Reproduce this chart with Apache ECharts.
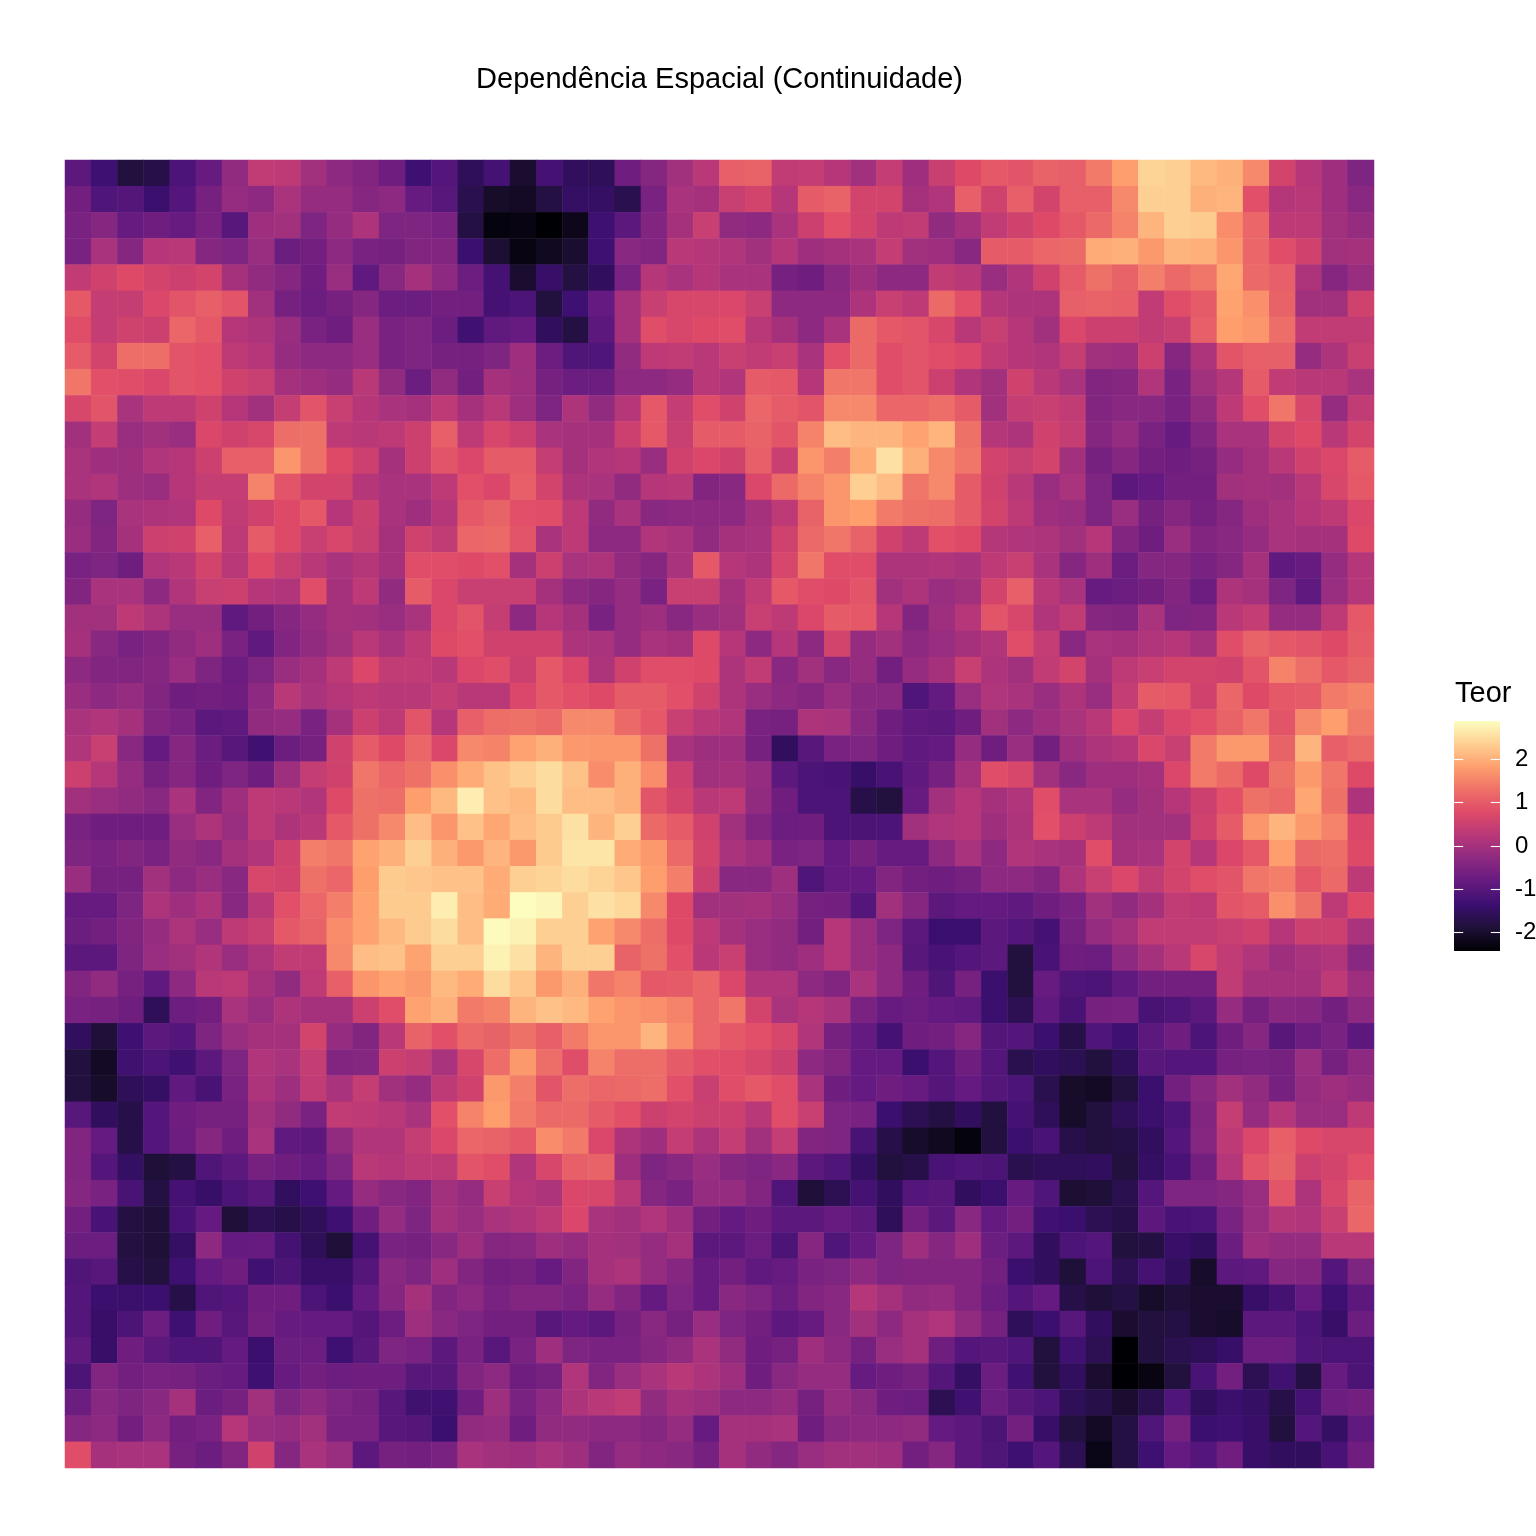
<!DOCTYPE html>
<html>
<head>
<meta charset="utf-8">
<style>html,body{margin:0;padding:0;background:#fff}#c{width:1536px;height:1536px}</style>
<script src="https://cdn.jsdelivr.net/npm/echarts@6/dist/echarts.min.js"></script>
</head>
<body>
<div id="c"></div>
<script>
const chartTitle = "Dependência Espacial (Continuidade)";
const legendTitle = "Teor";
const legendTicks = [-2, -1, 0, 1, 2];
const valueMin = -2.44;
const valueMax = 2.88;
const magma = ["#000004","#1F1038","#3B0F70","#641A80","#8C2981","#B73779","#DE4968","#EE7068","#FE9F6D","#FECF92","#FCFDBF"];

const row00=[-0.95,-1.35,-1.85,-1.75,-1.15,-0.8,-0.25,0.35,0.3,-0.05,-0.3,-0.45,-0.7,-1.35,-1.05,-1.6,-1.25, -2.0,-1.25,-1.55,-1.6,-0.7,-0.4,-0.05,0.25,1.05,1.1,0.35,0.4,0.2,-0.05,0.4,-0.1, 0.45,0.75,0.95,0.9,1.1,1.05,1.4,1.8,2.4,2.35,2.1,2.0,1.55,0.6,0.2,-0.1,-0.5];
const row01=[-0.65,-1.1,-1.05,-1.4,-1.05,-0.6,-0.2,-0.3,0.05,-0.2,-0.2,-0.4,-0.3,-0.8,-1.0,-1.7,-2.05, -2.1,-1.8,-1.5,-1.5,-1.7,-0.55,0.05,0.0,0.45,0.6,0.2,1.0,1.1,0.6,0.6,0.0, 0.15,1.05,0.55,1.05,0.6,1.05,1.05,1.55,2.35,2.35,2.0,2.05,0.85,0.2,0.25,-0.1,-0.35];
const row02=[-0.55,-0.4,-0.8,-0.7,-0.8,-0.55,-1.0,-0.1,-0.05,-0.5,-0.2,0.1,-0.5,-0.5,-0.55,-1.8,-2.35, -2.3,-2.44,-2.2,-1.35,-0.95,-0.45,0.0,0.45,-0.25,-0.3,0.05,0.5,0.85,0.6,0.3,0.35, -0.25,0.0,0.35,0.55,0.75,0.95,1.2,1.5,2.05,2.35,2.3,1.6,1.15,0.3,0.3,-0.05,-0.2];
const row03=[-0.55,0.05,-0.4,0.2,0.25,-0.4,-0.5,-0.15,-0.75,-0.65,-0.3,-0.55,-0.6,-0.45,-0.45,-1.4,-1.95, -2.3,-2.15,-2.0,-1.35,-0.35,-0.45,0.25,0.2,0.15,-0.05,0.2,-0.1,0.0,0.05,0.4,-0.05, -0.1,-0.35,1.0,1.0,1.15,1.2,1.95,2.0,1.75,2.05,2.0,1.7,1.15,0.8,0.55,-0.05,0.0];
const row04=[0.35,0.55,0.75,0.6,0.5,0.6,0.0,-0.25,-0.4,-0.7,-0.15,-0.9,-0.35,0.0,-0.3,-0.75,-1.25, -2.0,-1.45,-1.8,-1.55,-0.55,0.2,0.05,0.2,0.05,0.05,-0.6,-0.7,-0.35,-0.1,-0.3,-0.3, 0.35,0.25,-0.15,0.15,0.55,1.0,1.3,1.1,1.45,1.2,1.35,1.9,1.2,1.05,0.1,-0.4,-0.15];
const row05=[0.95,0.4,0.4,0.7,0.9,1.05,0.9,-0.05,-0.6,-0.75,-0.6,-0.4,-0.75,-0.75,-0.65,-0.65,-1.25, -1.15,-1.85,-1.35,-0.85,0.0,0.45,0.65,0.65,0.7,0.45,-0.3,-0.3,-0.3,0.1,0.45,0.3, 1.2,0.85,0.2,0.1,0.1,1.05,1.1,1.05,0.35,0.8,1.0,1.85,1.65,1.1,-0.05,-0.05,0.55];
const row06=[0.8,0.4,0.55,0.5,1.15,0.95,0.2,0.1,-0.15,-0.55,-0.7,-0.15,-0.55,-0.5,-0.75,-1.3,-0.9, -0.8,-1.55,-1.8,-0.95,0.0,0.8,0.65,0.75,0.8,0.25,0.0,-0.3,0.05,1.2,0.95,0.9, 0.65,0.25,0.45,0.2,-0.05,0.7,0.5,0.5,0.35,0.45,1.05,1.8,1.7,1.25,0.35,0.35,0.35];
const row07=[1.0,0.6,1.25,1.25,0.9,0.85,0.3,0.2,-0.2,-0.3,-0.3,-0.15,-0.55,-0.5,-0.6,-0.6,-0.5, -0.1,-0.75,-1.1,-1.1,-0.25,0.3,0.35,0.25,0.45,0.35,0.45,0.05,0.85,1.2,0.8,0.9, 0.8,0.7,0.35,0.2,0.15,0.4,-0.05,-0.1,0.5,-0.4,0.1,0.9,1.05,1.05,-0.2,0.1,0.45];
const row08=[1.35,0.85,0.8,0.7,0.9,0.85,0.55,0.45,0.0,-0.1,-0.2,0.25,-0.25,-0.75,-0.25,-0.65,0.0, -0.1,-0.6,-0.75,-0.75,-0.3,-0.3,-0.2,0.25,0.15,1.0,0.95,0.2,1.35,1.35,0.8,0.9, 0.5,0.15,-0.05,0.55,0.25,0.05,-0.45,-0.4,0.15,-0.55,-0.05,0.2,1.0,0.35,0.25,0.25,0.05];
const row09=[0.65,0.9,0.05,0.3,0.3,0.55,0.2,-0.05,0.4,0.9,0.45,0.2,0.05,0.0,0.3,0.0,0.25, -0.1,-0.5,0.1,-0.25,0.2,0.95,0.4,0.8,0.55,1.15,1.0,0.9,1.55,1.55,1.15,1.15, 1.25,1.0,-0.05,0.4,0.45,0.35,-0.45,-0.35,-0.35,-0.55,-0.25,0.3,0.8,1.35,0.65,-0.2,0.35];
const row10=[-0.05,0.4,-0.15,-0.05,-0.15,0.7,0.55,0.65,1.25,1.3,0.3,0.25,0.3,0.5,1.05,0.3,0.65, 0.5,0.05,0.0,0.0,0.5,0.95,0.45,1.0,1.0,1.1,0.9,1.5,2.15,2.05,2.05,1.85, 2.05,1.3,0.2,0.1,0.55,0.4,-0.4,-0.2,-0.55,-0.8,-0.45,0.05,0.05,0.6,0.75,0.25,0.6];
const row11=[0.05,-0.1,-0.1,0.15,0.2,0.5,1.05,1.05,1.7,1.3,0.75,0.5,0.0,0.5,0.9,0.7,1.0, 1.0,0.4,0.0,0.15,0.2,-0.15,0.55,0.7,0.55,1.05,0.45,1.7,1.45,1.95,2.55,2.0, 1.55,1.35,0.6,0.45,0.6,-0.05,-0.6,-0.4,-0.65,-0.7,-0.6,-0.2,0.0,0.25,0.55,0.7,1.0];
const row12=[0.05,0.15,-0.1,-0.15,0.2,0.4,0.4,1.5,0.9,0.6,0.6,0.2,0.05,0.05,0.3,0.85,0.7, 1.05,0.6,0.1,0.05,-0.25,0.2,0.25,-0.45,-0.35,0.7,1.2,1.5,1.7,2.35,2.15,1.35, 1.55,1.0,0.55,0.25,-0.15,0.05,-0.5,-0.95,-0.85,-0.65,-0.65,-0.05,0.0,-0.05,0.25,0.65,0.95];
const row13=[-0.2,-0.5,0.05,0.1,0.15,0.75,0.35,0.55,0.75,0.95,0.2,0.5,0.05,-0.1,0.2,0.95,1.1, 0.85,0.8,0.3,-0.25,0.05,-0.35,-0.3,-0.3,-0.3,0.0,0.3,1.1,1.7,1.8,1.4,1.3, 1.25,1.0,0.6,0.3,-0.1,-0.15,-0.5,-0.15,-0.6,-0.4,-0.6,-0.4,-0.1,0.05,0.2,0.3,0.7];
const row14=[-0.15,-0.45,0.0,0.5,0.55,1.05,0.3,1.0,0.75,0.45,0.65,0.45,0.0,0.55,0.35,1.15,1.2, 0.9,0.05,0.3,-0.3,-0.3,0.15,0.05,-0.25,0.0,0.05,0.55,1.2,1.35,1.1,0.55,0.3, 0.85,0.75,0.2,0.15,0.1,-0.05,0.2,-0.45,-0.7,-0.15,-0.45,-0.35,-0.2,0.05,0.0,0.0,0.75];
const row15=[-0.55,-0.5,-0.7,0.15,0.25,0.6,0.25,0.75,0.45,0.25,0.05,0.2,0.0,0.8,0.8,0.75,0.85, 0.0,0.5,0.05,0.1,-0.25,-0.4,0.05,0.95,0.2,0.1,0.65,1.35,0.8,0.8,0.1,0.1, 0.15,0.05,0.3,0.45,0.05,-0.4,-0.1,-0.75,-0.4,-0.4,-0.55,-0.4,0.0,-0.9,-0.8,-0.2,0.2];
const row16=[-0.45,0.05,0.05,-0.3,0.15,0.45,0.5,0.2,0.15,0.8,0.0,0.3,-0.25,1.0,0.7,0.45,0.45, 0.45,0.0,-0.3,-0.4,-0.2,-0.55,0.45,0.45,0.0,0.35,0.95,0.8,0.75,0.9,-0.05,0.1, -0.15,-0.05,0.6,1.05,0.25,0.05,-0.8,-0.75,-0.65,-0.45,-0.75,0.1,0.0,-0.5,-0.9,-0.15,0.2];
const row17=[-0.05,-0.05,0.3,0.1,-0.15,-0.15,-0.9,-0.65,-0.4,-0.2,0.0,-0.05,-0.15,0.05,0.7,0.9,0.4, -0.3,0.2,0.0,-0.55,-0.2,-0.1,-0.35,-0.15,-0.05,0.45,0.3,0.7,1.0,0.95,0.2,-0.45, -0.1,0.2,0.9,0.65,0.15,0.35,-0.4,-0.45,0.05,-0.5,-0.45,0.25,0.4,-0.2,-0.2,0.3,0.95];
const row18=[0.0,-0.35,-0.55,-0.45,-0.25,-0.1,-0.55,-0.9,-0.45,-0.25,-0.05,0.25,0.05,0.3,0.75,0.85,0.55, 0.55,0.55,0.1,0.05,-0.2,0.05,0.0,0.75,0.2,-0.3,0.2,-0.3,0.6,-0.2,-0.05,-0.3, -0.15,0.0,0.15,0.8,0.4,-0.35,0.05,0.0,0.15,0.2,0.0,0.8,1.1,0.95,0.9,0.75,1.0];
const row19=[-0.3,-0.45,-0.45,-0.4,-0.15,-0.5,-0.75,-0.5,-0.15,0.0,0.3,0.7,0.35,0.35,0.25,0.7,0.8, 0.5,0.95,0.7,0.1,0.55,0.8,0.8,0.75,0.1,0.35,-0.35,-0.05,-0.35,-0.2,-0.65,-0.2, 0.0,0.45,0.1,-0.05,0.35,0.6,0.0,0.3,0.45,0.6,0.6,0.55,0.9,1.5,1.25,0.95,1.1];
const row20=[-0.15,-0.3,-0.2,-0.45,-0.7,-0.65,-0.7,-0.3,0.25,0.05,0.2,0.3,0.25,0.25,0.4,0.25,0.25, 0.7,0.95,0.85,0.75,1.0,1.0,0.85,0.55,0.1,-0.15,-0.3,-0.4,-0.15,-0.35,-0.35,-1.1, -0.85,-0.15,0.15,0.05,-0.15,0.1,-0.15,0.4,1.0,0.95,0.55,1.15,0.75,0.95,1.0,1.4,1.5];
const row21=[0.05,0.15,0.0,-0.45,-0.55,-0.95,-0.9,-0.25,-0.2,-0.55,0.0,0.5,0.3,0.9,0.2,1.05,1.25, 1.3,1.2,1.55,1.55,1.2,0.95,0.45,0.25,0.15,-0.55,-0.6,0.1,0.05,-0.35,-0.7,-0.9, -0.95,-0.7,-0.05,-0.3,-0.1,0.05,0.25,0.7,0.4,0.7,0.85,1.1,1.35,0.9,1.55,1.8,1.4];
const row22=[0.15,0.45,-0.35,-0.85,-0.4,-0.75,-1.0,-1.3,-0.75,-0.6,0.55,1.0,0.75,1.15,0.7,1.55,1.5, 1.85,2.0,1.75,1.7,1.7,1.3,0.05,-0.1,-0.1,-0.6,-1.55,-1.0,-0.55,-0.5,-0.7,-0.9, -0.85,-0.2,-0.7,-0.15,-0.65,-0.1,0.1,0.2,0.7,0.45,1.4,1.75,1.75,1.1,2.05,1.05,1.2];
const row23=[0.5,0.2,-0.2,-0.6,-0.4,-0.7,-0.5,-0.7,-0.1,0.4,0.55,1.35,1.15,1.3,1.65,1.95,2.2, 2.35,2.5,2.2,1.6,2.0,1.6,0.5,-0.05,0.0,-0.2,-0.95,-1.15,-1.2,-1.45,-1.2,-0.9, -0.6,0.0,0.8,0.65,-0.05,-0.35,-0.1,-0.1,0.0,0.7,1.4,1.2,0.75,1.3,1.75,1.35,0.75];
const row24=[-0.05,-0.15,-0.25,-0.35,0.05,-0.45,-0.1,0.3,0.25,0.15,0.75,1.3,1.25,1.8,2.1,2.7,2.2, 2.1,2.5,2.15,2.15,2.0,0.9,0.6,0.25,0.3,-0.25,-0.7,-1.15,-1.15,-1.75,-1.85,-0.8, -0.05,0.2,0.0,0.15,0.8,0.05,0.05,-0.2,-0.05,0.2,0.5,0.85,1.3,1.2,1.9,1.3,0.1];
const row25=[-0.55,-0.7,-0.7,-0.7,-0.15,0.1,-0.15,0.3,0.1,0.25,0.95,1.3,1.55,2.15,1.7,2.2,1.9, 2.15,2.3,2.55,2.05,2.35,1.2,1.0,0.55,-0.05,-0.45,-0.75,-0.7,-1.15,-1.15,-1.15,-0.05, 0.15,0.2,-0.1,0.1,0.85,0.5,0.3,-0.05,-0.05,-0.05,0.55,1.0,1.7,2.05,1.75,1.5,0.7];
const row26=[-0.5,-0.55,-0.45,-0.55,-0.25,-0.35,0.0,0.15,0.55,1.45,1.35,1.85,2.0,2.35,2.0,1.75,2.05, 1.75,2.3,2.6,2.6,1.95,1.75,1.2,0.6,0.05,-0.1,-0.55,-0.5,-0.85,-0.6,-0.8,-0.8, -0.3,0.05,-0.3,0.15,0.05,0.0,0.8,0.0,0.05,0.6,0.2,0.7,0.95,1.8,1.2,1.25,0.75];
const row27=[-0.15,-0.6,-0.6,-0.05,-0.3,-0.15,-0.35,0.65,0.6,1.3,1.15,1.8,2.3,2.25,2.2,2.2,1.95, 2.35,2.4,2.5,2.4,2.25,1.8,1.45,0.5,-0.35,-0.35,-0.1,-1.1,-0.85,-0.85,-0.45,-0.65, -0.7,-0.6,-0.3,-0.3,-0.45,0.1,0.45,0.7,0.35,0.6,0.8,0.9,1.35,1.45,0.95,1.2,0.3];
const row28=[-0.8,-0.8,-0.5,0.1,-0.1,0.1,-0.35,0.25,0.85,1.15,1.45,1.85,2.3,2.3,2.7,2.15,1.95, 2.88,2.8,2.35,2.55,2.45,1.55,0.75,-0.05,-0.05,0.0,-0.15,-0.6,-0.65,-1.05,-0.05,-0.4, -0.95,-0.85,-0.85,-0.9,-0.7,-0.55,-0.05,-0.25,0.0,0.35,0.3,0.9,1.0,1.65,1.3,0.3,0.75];
const row29=[-0.75,-0.65,-0.45,-0.2,0.1,-0.15,0.3,0.45,0.95,1.1,1.6,1.85,2.1,2.3,2.5,2.15,2.85, 2.75,2.35,2.35,1.85,1.55,1.25,0.75,0.3,0.0,-0.15,-0.25,-0.65,0.2,-0.15,-0.5,-0.95, -1.4,-1.4,-0.95,-1.05,-1.25,-0.6,-0.2,0.0,0.35,0.35,0.35,0.45,0.55,0.2,0.5,0.5,0.05];
const row30=[-0.95,-0.95,-0.5,-0.15,-0.05,0.15,-0.15,0.1,0.35,0.35,1.55,2.15,2.2,1.85,2.35,2.35,2.75, 2.55,2.05,2.35,2.35,1.1,1.3,0.85,0.25,0.45,-0.15,-0.25,-0.1,0.2,-0.15,-0.3,-1.0, -1.2,-1.05,-0.95,-1.85,-1.2,-0.7,-0.75,-0.3,0.0,0.25,0.65,0.35,0.15,-0.1,0.05,0.15,-0.35];
const row31=[-0.45,-0.25,-0.6,-0.9,-0.3,0.25,0.3,0.0,-0.25,0.3,1.05,1.7,1.85,1.75,2.1,1.95,2.5, 2.25,1.75,2.0,1.35,1.5,0.95,1.0,1.15,0.7,0.15,0.15,-0.3,-0.45,0.05,-0.3,-0.7, -1.1,-0.6,-1.4,-1.85,-0.8,-1.1,-1.15,-0.9,-0.65,-0.65,-0.65,0.35,0.0,0.0,0.0,0.3,-0.1];
const row32=[-0.55,-0.6,-0.7,-1.6,-0.75,-0.65,0.05,-0.15,0.1,0.0,0.0,0.5,0.8,1.85,2.0,1.4,1.5, 2.05,2.2,2.1,1.85,1.7,1.65,1.5,1.15,1.35,0.6,0.05,0.2,0.05,-0.55,-0.8,-0.75, -0.85,-0.9,-1.4,-1.65,-0.9,-1.2,-0.6,-0.55,-1.2,-1.1,-0.95,-0.2,-0.6,-0.35,-0.4,-0.65,-0.3];
const row33=[-1.55,-1.9,-1.35,-0.95,-1.05,-0.5,-0.15,0.0,0.0,0.6,-0.2,-0.45,0.25,1.1,0.85,1.2,1.1, 1.3,1.05,1.4,1.7,1.7,2.05,1.6,1.15,0.95,0.85,0.65,0.15,-0.6,-0.85,-1.25,-0.7, -0.65,-0.4,-1.05,-1.05,-1.4,-1.75,-1.1,-1.35,-0.95,-0.7,-1.15,-0.7,-0.4,-1.0,-0.75,-0.55,-0.95];
const row34=[-1.85,-2.1,-1.3,-1.15,-1.3,-0.95,-0.5,0.15,0.05,0.4,-0.45,-0.4,0.5,0.4,0.05,0.65,1.25, 1.75,1.25,0.8,1.5,1.25,1.25,1.0,0.85,0.8,0.65,0.5,-0.3,-0.45,-0.85,-0.85,-1.4, -1.05,-0.7,-1.05,-1.7,-1.55,-1.65,-1.85,-1.6,-1.0,-1.05,-1.05,-0.6,-0.55,-0.6,-0.15,-0.6,-0.3];
const row35=[-1.85,-2.05,-1.6,-1.5,-0.9,-1.2,-0.55,0.1,-0.1,0.35,0.05,0.4,-0.05,-0.2,0.3,0.55,1.75, 1.45,0.9,1.25,1.15,1.2,1.25,0.85,0.45,0.8,0.95,0.8,0.05,-0.7,-0.85,-0.7,-0.8, -1.05,-0.85,-1.05,-1.15,-1.7,-2.05,-2.1,-1.85,-1.4,-0.65,-0.35,-0.05,-0.25,-0.6,-0.2,-0.1,-0.2];
const row36=[-1.0,-1.55,-1.75,-1.05,-0.7,-0.6,-0.6,-0.05,-0.25,-0.55,0.35,0.3,0.25,0.05,0.85,1.5,1.8, 1.4,1.2,1.2,1.0,0.85,0.5,0.6,0.5,0.5,0.25,0.8,0.45,-0.5,-0.55,-1.4,-1.65, -1.8,-1.55,-1.85,-1.25,-1.6,-2.05,-1.85,-1.6,-1.4,-1.15,-0.45,0.4,-0.2,0.2,-0.15,-0.15,0.3];
const row37=[-0.45,-0.85,-1.75,-1.05,-0.75,-0.4,-0.7,0.05,-0.9,-0.95,-0.25,0.15,0.15,0.4,0.7,1.15,1.1, 0.95,1.6,1.4,0.7,0.1,-0.1,0.4,0.1,0.4,-0.05,0.4,-0.45,-0.5,-1.2,-1.75,-2.05, -2.15,-2.35,-1.85,-1.4,-1.2,-1.75,-1.85,-1.8,-1.55,-1.05,-0.4,0.3,0.7,1.05,0.75,0.65,0.65];
const row38=[-0.45,-1.05,-1.5,-1.9,-1.8,-1.1,-0.95,-0.6,-0.7,-0.8,-0.5,0.25,0.2,0.3,0.3,0.9,0.8, 0.15,0.65,1.05,1.1,-0.1,-0.5,-0.35,-0.15,-0.4,-0.5,-0.35,-0.95,-1.1,-1.5,-1.85,-1.75, -1.2,-1.1,-1.15,-1.7,-1.6,-1.6,-1.55,-1.85,-1.5,-1.2,-0.65,0.2,0.9,1.1,0.5,0.6,0.85];
const row39=[-0.4,-0.55,-1.2,-1.8,-1.25,-1.45,-1.15,-1.0,-1.55,-1.35,-0.85,-0.2,-0.35,-0.45,-0.05,-0.2,0.45, 0.2,0.1,0.7,0.65,0.25,-0.4,-0.55,-0.2,-0.2,-0.45,-1.1,-1.9,-1.65,-1.25,-1.55,-1.05, -1.0,-1.55,-1.4,-0.8,-1.1,-1.95,-1.9,-1.7,-1.05,-0.5,-0.5,-0.4,-0.15,0.9,0.1,0.65,1.1];
const row40=[-0.65,-1.2,-1.8,-1.9,-1.2,-0.85,-1.9,-1.65,-1.75,-1.6,-1.35,-0.7,-0.2,-0.5,0.0,-0.15,0.05, 0.15,0.3,0.7,0.05,-0.05,0.15,-0.1,-0.65,-0.85,-0.7,-0.95,-0.95,-0.8,-0.95,-1.6,-0.65, -0.95,-0.35,-0.85,-0.65,-1.3,-1.4,-1.65,-1.75,-0.95,-1.2,-1.15,-0.55,-0.15,0.2,0.15,0.45,1.15];
const row41=[-0.75,-0.75,-1.8,-1.9,-1.5,-0.3,-0.85,-0.8,-1.25,-1.6,-1.9,-1.25,-0.55,-0.6,-0.35,-0.1,-0.4, -0.35,-0.1,-0.2,0.0,-0.05,-0.2,0.0,-0.95,-0.95,-0.75,-1.15,-0.4,-1.1,-0.85,-0.5,-0.1, -0.4,-0.1,-0.75,-0.95,-1.55,-1.15,-1.05,-1.85,-1.8,-1.45,-1.55,-0.75,-0.1,-0.2,-0.2,0.25,0.25];
const row42=[-1.1,-1.0,-1.75,-1.85,-1.35,-0.85,-0.7,-1.3,-1.15,-1.45,-1.45,-1.05,-0.35,-0.5,-0.1,-0.45,-0.65, -0.6,-0.8,-0.45,0.0,0.1,-0.2,-0.4,-0.8,-0.65,-0.9,-0.8,-0.55,-0.5,-0.3,-0.5,-0.45, -0.45,-0.45,-0.65,-1.4,-1.55,-1.9,-1.15,-1.65,-1.25,-1.55,-2.05,-0.95,-0.9,-0.4,-0.45,-1.05,-0.5];
const row43=[-1.05,-1.4,-1.4,-1.4,-1.75,-1.1,-1.05,-0.7,-0.7,-1.15,-1.4,-0.85,-0.4,0.0,-0.45,-0.3,-0.55, -0.45,-0.45,-0.55,-0.2,-0.45,-0.85,-0.5,-0.8,-0.35,-0.5,-0.75,-0.45,-0.35,0.2,0.0,-0.25, -0.2,-0.45,-0.75,-1.05,-0.85,-1.75,-1.9,-1.8,-2.05,-1.9,-2.0,-2.0,-1.45,-1.25,-0.85,-1.35,-0.95];
const row44=[-1.05,-1.45,-1.15,-0.75,-1.35,-0.7,-1.0,-0.65,-0.8,-0.85,-0.85,-1.05,-0.75,-0.1,-0.35,-0.5,-0.65, -0.65,-1.0,-0.85,-0.95,-0.6,-0.35,-0.6,-0.15,-0.5,-0.65,-0.95,-0.8,-0.35,-0.05,-0.3,0.0, 0.15,-0.25,-0.6,-1.6,-1.4,-1.0,-1.55,-2.0,-1.85,-1.8,-2.0,-2.05,-0.95,-0.95,-1.15,-1.45,-0.75];
const row45=[-0.9,-1.45,-0.7,-0.95,-1.1,-1.1,-0.85,-1.4,-0.75,-0.75,-1.35,-1.0,-0.5,-0.55,-0.95,-0.55,-1.0, -0.55,-0.1,-0.5,-0.55,-0.55,-0.4,-0.25,0.05,-0.25,-0.7,-0.6,-0.1,-0.3,-0.6,-0.15,0.0, -0.7,-1.05,-1.0,-1.1,-1.85,-1.3,-1.65,-2.44,-1.85,-1.7,-1.6,-1.45,-0.75,-0.75,-1.1,-1.15,-1.15];
const row46=[-1.15,-0.45,-0.65,-0.55,-0.6,-0.75,-0.8,-1.35,-0.8,-0.65,-0.75,-0.7,-0.7,-1.0,-1.0,-0.45,-0.3, -0.7,-0.6,0.15,-0.45,-0.15,0.05,0.25,0.1,-0.1,-0.7,-0.35,-0.2,-0.2,-0.8,-0.7,-0.6, -1.05,-1.5,-0.75,-1.3,-1.85,-1.55,-2.0,-2.44,-2.3,-1.85,-1.2,-0.65,-1.65,-1.3,-1.8,-0.8,-1.15];
const row47=[-0.75,-0.35,-0.5,-0.35,0.0,-0.75,-0.6,-0.05,-0.5,-0.3,-0.5,-0.6,-1.0,-1.3,-1.3,-0.7,-0.1, -0.55,-0.3,0.1,0.25,0.35,-0.25,0.0,-0.1,-0.3,-0.3,-0.2,-0.6,-0.2,-0.35,-0.7,-0.75, -1.65,-1.3,-0.75,-1.0,-1.15,-1.6,-1.75,-2.0,-1.7,-1.1,-1.55,-1.4,-1.5,-1.75,-1.25,-0.75,-0.65];
const row48=[-0.4,-0.3,-0.65,-0.3,-0.65,-0.55,0.2,-0.15,-0.2,-0.05,-0.55,-0.55,-1.0,-1.05,-1.4,-0.25,-0.2, -0.7,-0.25,-0.25,-0.3,-0.3,-0.4,-0.2,-0.8,0.0,0.0,0.05,-0.7,-0.35,-0.3,-0.3,-0.25, -0.85,-0.95,-1.15,-0.65,-1.45,-1.85,-2.1,-1.8,-1.1,-0.6,-1.4,-1.35,-1.45,-1.85,-1.05,-1.5,-0.9];
const row49=[0.8,0.0,0.05,0.05,-0.6,-0.75,-0.45,0.55,-0.4,0.05,-0.15,-0.95,-0.6,-0.65,-0.55,0.05,-0.05, -0.1,0.05,-0.1,-0.45,-0.2,-0.3,-0.35,-0.6,0.0,-0.25,-0.4,-0.15,-0.05,-0.05,-0.1,-0.65, -0.4,-0.95,-1.1,-1.35,-1.05,-1.65,-2.25,-1.8,-1.35,-0.85,-1.05,-0.7,-1.45,-1.55,-1.55,-1.2,-0.7];

const rows=[row00,row01,row02,row03,row04,row05,row06,row07,row08,row09,row10,row11,row12,row13,row14,row15,row16,row17,row18,row19,row20,row21,row22,row23,row24,row25,row26,row27,row28,row29,row30,row31,row32,row33,row34,row35,row36,row37,row38,row39,row40,row41,row42,row43,row44,row45,row46,row47,row48,row49];
const xCats = row00.map((_, i) => i + 1);
const yCats = rows.map((_, i) => i + 1);
const cells = [];
rows.forEach((r, y) => r.forEach((v, x) => cells.push([x, y, v])));

const FONT = '"Liberation Sans", Arial, sans-serif';
const chart = echarts.init(document.getElementById('c'), null, {renderer: 'canvas'});
chart.setOption({
  animation: false,
  backgroundColor: '#fff',
  title: [
    {text: chartTitle, left: 714.5, top: 60, textAlign: 'center',
     textStyle: {fontFamily: FONT, fontWeight: 'normal', fontSize: 29, color: '#000'}},
    {text: legendTitle, left: 1455, top: 679,
     textStyle: {fontFamily: FONT, fontWeight: 'normal', fontSize: 29, color: '#000'}, padding: 0}
  ],
  grid: [
    {left: 65, top: 160, width: 1309, height: 1308, show: false},
    {left: 1454, top: 721, width: 46, height: 230, show: false}
  ],
  xAxis: [
    {type: 'category', gridIndex: 0, data: xCats, show: false},
    {type: 'value', gridIndex: 1, show: false, min: 0, max: 1}
  ],
  yAxis: [
    {type: 'category', gridIndex: 0, data: yCats, inverse: true, show: false},
    {type: 'value', gridIndex: 1, min: valueMin, max: valueMax, show: false}
  ],
  visualMap: {
    type: 'continuous', min: valueMin, max: valueMax, seriesIndex: 0, show: false,
    inRange: {color: magma}
  },
  series: [
    {
      type: 'heatmap', xAxisIndex: 0, yAxisIndex: 0, data: cells, progressive: 0,
      itemStyle: {borderWidth: 0}, emphasis: {disabled: true}
    },
    {
      type: 'custom', xAxisIndex: 1, yAxisIndex: 1, silent: true, z: 1, clip: false,
      data: [[0, valueMax, 1, valueMin]],
      encode: {x: [0, 2], y: [1, 3]},
      renderItem: (params, api) => {
        const a = api.coord([api.value(0), api.value(1)]);
        const b = api.coord([api.value(2), api.value(3)]);
        return {
          type: 'rect',
          shape: {x: a[0], y: a[1], width: b[0] - a[0], height: b[1] - a[1]},
          style: {fill: new echarts.graphic.LinearGradient(0, 1, 0, 0,
            magma.map((c, i) => ({offset: i / (magma.length - 1), color: c})))}
        };
      }
    },
    {
      type: 'custom', xAxisIndex: 1, yAxisIndex: 1, silent: true, z: 5, clip: false,
      data: legendTicks.map(t => [t]),
      encode: {y: 0},
      renderItem: (params, api) => {
        const v = api.value(0);
        const left = api.coord([0, v]);
        const right = api.coord([1, v]);
        const y = Math.round(left[1]) + 0.5;
        const stroke = {stroke: '#fff', lineWidth: 1.1};
        return {
          type: 'group',
          children: [
            {type: 'line', shape: {x1: left[0], y1: y, x2: left[0] + 9.2, y2: y}, style: stroke},
            {type: 'line', shape: {x1: right[0] - 9.2, y1: y, x2: right[0], y2: y}, style: stroke},
            {type: 'text', x: right[0] + 15, y: left[1] + 0.5,
             style: {text: String(v), fill: '#000', font: '24px ' + FONT, align: 'left', verticalAlign: 'middle'}}
          ]
        };
      }
    }
  ]
});
</script>
</body>
</html>
